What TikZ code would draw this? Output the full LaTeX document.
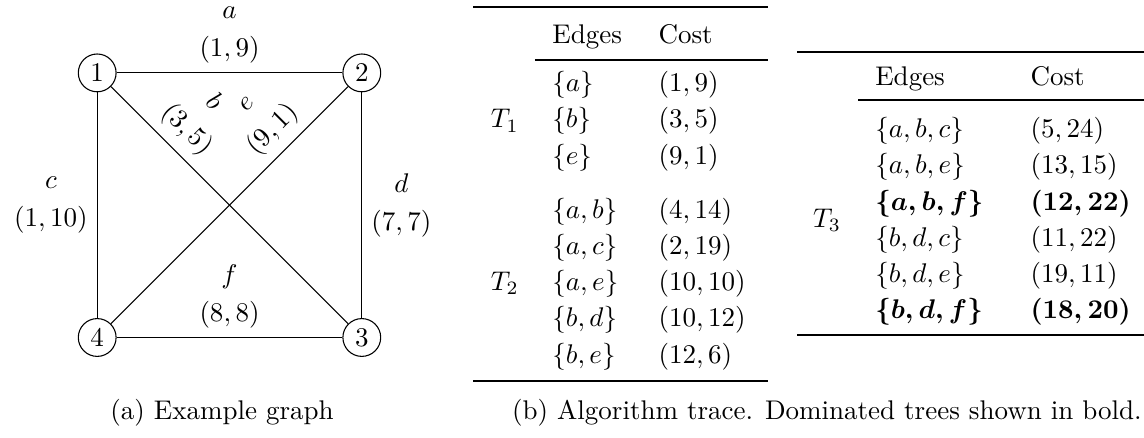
\documentclass[tikz,border=0pt]{standalone}
\usepackage{tikz}

\begin{document}
\begin{tikzpicture}[
    vertex/.style={draw, circle, minimum size=14pt, inner sep=0pt},
    edge/.style={draw, line width=0.4pt},
    cost/.style={align=center},
    cell/.style={anchor=base west, inner sep=0pt},
    group/.style={anchor=base, inner sep=0pt},
    heavyrule/.style={line width=0.8pt},
    lightrule/.style={line width=0.5pt},
    plain/.style={},
    best/.style={font=\boldmath},
]

\useasboundingbox (0,0) rectangle (423.7pt,-162.2pt);

% example graph
\node[vertex] (v1) at (36pt,-27pt) {1};
\node[vertex] (v2) at (134pt,-27pt) {2};
\node[vertex] (v3) at (134pt,-125pt) {3};
\node[vertex] (v4) at (36pt,-125pt) {4};

\draw[edge] (v1) -- node[cost, above] {$a$\\[2pt]$(1,9)$} (v2);
\draw[edge] (v1) -- node[cost, left] {$c$\\[2pt]$(1,10)$} (v4);
\draw[edge] (v2) -- node[cost, right] {$d$\\[2pt]$(7,7)$} (v3);
\draw[edge] (v4) -- node[cost, above] {$f$\\[2pt]$(8,8)$} (v3);
\draw[edge] (v1) -- node[cost, above, sloped, pos=0.25] {$b$\\[2pt]$(3,5)$} (v3);
\draw[edge] (v4) -- node[cost, above, sloped, pos=0.75] {$e$\\[2pt]$(9,1)$} (v2);

\node[cell] (capA) at (40.7pt,-155.2pt) {(a) Example graph};

% trace, trees T1 and T2
\def\colT{187}
\def\colE{204.4}
\def\colC{243.7}

\draw[heavyrule] (175.2pt,-2.6pt) -- (284.4pt,-2.6pt);
\node[cell] (hEa) at (\colE pt,-16.2pt) {Edges};
\node[cell] (hCa) at (\colC pt,-16.2pt) {Cost};
\draw[lightrule] (198.1pt,-22.2pt) -- (284.4pt,-22.2pt);

\node[group] (t1) at (\colT pt,-47.4pt) {$T_1$};
\foreach \ed/\co [count=\i, evaluate=\i as \y using -34-13.4*(\i-1)] in
    {{a}/{1,9}, {b}/{3,5}, {e}/{9,1}}
{
    \node[cell] (ea\i) at (\colE pt,\y pt) {$\{\ed\}$};
    \node[cell] (ca\i) at (\colC pt,\y pt) {$(\co)$};
}

\node[group] (t2) at (\colT pt,-107.7pt) {$T_2$};
\foreach \ed/\co [count=\i, evaluate=\i as \y using -80.9-13.4*(\i-1)] in
    {{a,b}/{4,14}, {a,c}/{2,19}, {a,e}/{10,10}, {b,d}/{10,12}, {b,e}/{12,6}}
{
    \node[cell] (eb\i) at (\colE pt,\y pt) {$\{\ed\}$};
    \node[cell] (cb\i) at (\colC pt,\y pt) {$(\co)$};
}
\draw[heavyrule] (175.2pt,-141.1pt) -- (284.4pt,-141.1pt);

\node[cell] (capB) at (189.5pt,-155.2pt) {(b) Algorithm trace. Dominated trees shown in bold.};

% trace, trees T3
\def\colTT{306.3}
\def\colEE{324}
\def\colCC{381.5}

\draw[heavyrule] (295.2pt,-19.3pt) -- (423.7pt,-19.3pt);
\node[cell] (hEb) at (\colEE pt,-31.5pt) {Edges};
\node[cell] (hCb) at (\colCC pt,-31.5pt) {Cost};
\draw[lightrule] (317.8pt,-37pt) -- (423.7pt,-37pt);

\node[group] (t3) at (\colTT pt,-84.4pt) {$T_3$};
\foreach \ed/\co/\st [count=\i, evaluate=\i as \y using -51-13.4*(\i-1)] in
    {{a,b,c}/{5,24}/plain, {a,b,e}/{13,15}/plain, {a,b,f}/{12,22}/best,
     {b,d,c}/{11,22}/plain, {b,d,e}/{19,11}/plain, {b,d,f}/{18,20}/best}
{
    \node[cell, \st] (ec\i) at (\colEE pt,\y pt) {$\{\ed\}$};
    \node[cell, \st] (cc\i) at (\colCC pt,\y pt) {$(\co)$};
}
\draw[heavyrule] (295.2pt,-124.1pt) -- (423.7pt,-124.1pt);

\end{tikzpicture}
\end{document}
